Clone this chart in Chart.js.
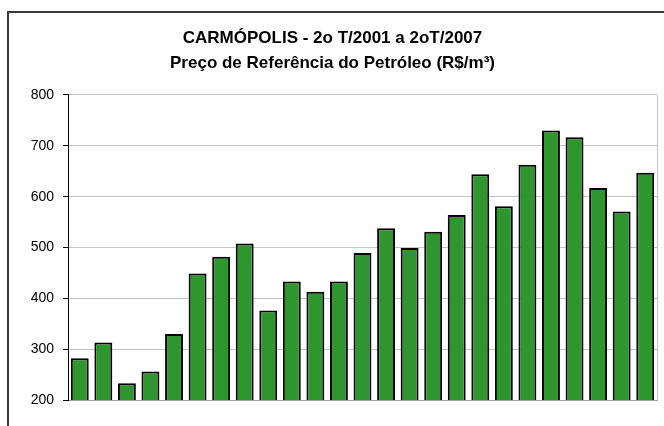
<html>
<head>
<meta charset="utf-8"/>
<title>Carmópolis</title>
<script src="https://cdn.jsdelivr.net/npm/chart.js@4.4.1/dist/chart.umd.min.js"></script>
<style>
  body { margin:0; background:#fff; }
  #frame { position:absolute; left:7px; top:11px; width:700px; height:500px;
           border-left:2px solid #3a3a3a; border-top:2px solid #3a3a3a; }
  #wrap { position:absolute; left:0; top:0; width:664px; height:426px; }
</style>
</head>
<body>
<div id="frame"></div>
<div id="wrap"><canvas id="myChart" width="664" height="426"></canvas></div>
<script>
// quarters 2oT/2001 .. 2oT/2007
var periodos = ['2T01','3T01','4T01','1T02','2T02','3T02','4T02','1T03','2T03','3T03','4T03','1T04','2T04',
                '3T04','4T04','1T05','2T05','3T05','4T05','1T06','2T06','3T06','4T06','1T07','2T07'];
var precos = [282, 313, 233, 256, 330, 449, 482, 508, 376, 433, 413, 433, 489,
              538, 499, 531, 564, 644, 581, 663, 730, 717, 617, 571, 647];
var tituloLinhas = ['CARMÓPOLIS - 2o T/2001 a 2oT/2007', 'Preço de Referência do Petróleo (R$/m³)'];

// gray border on the right side of the plot area
var plotBorder = {
    id: 'plotBorder',
    afterDraw: function(chart) {
        var a = chart.chartArea, c = chart.ctx;
        c.save();
        c.strokeStyle = '#c4c4c4';
        c.lineWidth = 1;
        c.beginPath();
        c.moveTo(Math.round(a.right) + 0.5, a.top);
        c.lineTo(Math.round(a.right) + 0.5, a.bottom);
        c.stroke();
        c.restore();
    }
};

var ctx = document.getElementById('myChart');
var myChart = new Chart(ctx, {
    type: 'bar',
    data: {
        labels: periodos,
        datasets: [{
            data: precos,
            backgroundColor: '#2f952f',
            borderColor: '#000',
            borderWidth: 2,
            barPercentage: 0.76,
            categoryPercentage: 1.0
        }]
    },
    options: {
        responsive: false,
        animation: false,
        layout: { padding: { top: 12, left: 8, right: 7, bottom: 18 } },
        plugins: {
            legend: { display: false },
            tooltip: { enabled: false },
            title: {
                display: true,
                text: tituloLinhas,
                color: '#000',
                font: { family: 'Liberation Sans, Arial', size: 17, weight: 'bold', lineHeight: 1.47 },
                padding: { top: 14, bottom: 19 }
            }
        },
        scales: {
            x: {
                ticks: { display: false },
                grid: { display: false },
                border: { display: true, color: '#a0a0a0', width: 1 }
            },
            y: {
                min: 200,
                max: 800,
                afterFit: function(s) { s.width = 60; },
                ticks: {
                    stepSize: 100,
                    color: '#000',
                    padding: 9,
                    font: { family: 'Liberation Sans, Arial', size: 14 }
                },
                grid: { color: '#c4c4c4', tickColor: '#000', tickLength: 5 },
                border: { display: true, color: '#000', width: 1 }
            }
        }
    },
    plugins: [plotBorder]
});
</script>
</body>
</html>
